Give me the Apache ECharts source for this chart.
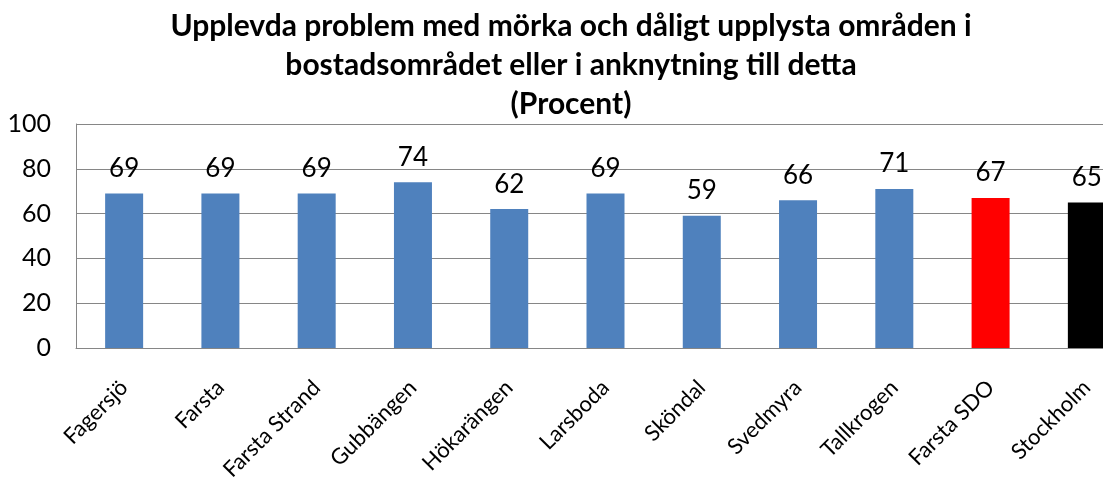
<!DOCTYPE html>
<html>
<head>
<meta charset="utf-8">
<script src="https://cdn.jsdelivr.net/npm/echarts@6/dist/echarts.min.js"></script>
<style>
  html, body { margin: 0; padding: 0; background: #fff; }
  #chart { width: 1103px; height: 490px; }
</style>
</head>
<body>
<div id="chart"></div>
<script>
// Upplevda problem med mörka och dåligt upplysta områden (procent)
const titleLines = [
  'Upplevda problem med mörka och dåligt upplysta områden i',
  'bostadsområdet eller i anknytning till detta',
  '(Procent)'
]
const areas = ['Fagersjö', 'Farsta', 'Farsta Strand', 'Gubbängen', 'Hökarängen',
  'Larsboda', 'Sköndal', 'Svedmyra', 'Tallkrogen', 'Farsta SDO', 'Stockholm']
const percent = [69, 69, 69, 74, 62, 69, 59, 66, 71, 67, 65]
const barColors = ['#4F81BD', '#4F81BD', '#4F81BD', '#4F81BD', '#4F81BD',
  '#4F81BD', '#4F81BD', '#4F81BD', '#4F81BD', '#FF0000', '#000000']
const yTicks = { min: 0, max: 100, step: 20 }

const FONT = 'Lato, "Open Sans", sans-serif'
const GRID_COLOR = '#868686'

const chart = echarts.init(document.getElementById('chart'))

chart.setOption({
  backgroundColor: '#fff',
  animation: false,
  title: {
    text: titleLines.join('\n'),
    left: 566,
    textAlign: 'center',
    top: 2,
    textStyle: {
      fontFamily: FONT,
      fontWeight: 'bold',
      fontSize: 30,
      lineHeight: 39,
      color: '#000'
    }
  },
  // plot runs past the right edge, as in the source picture
  grid: {
    left: 76, top: 124, width: 1059, height: 224,
    containLabel: false, outerBoundsMode: 'none'
  },
  xAxis: {
    type: 'category',
    data: areas,
    axisLine: { show: true, lineStyle: { color: GRID_COLOR, width: 1 } },
    axisTick: { show: false },
    axisLabel: {
      rotate: 45,
      interval: 0,
      margin: 36,
      fontFamily: FONT,
      fontSize: 22,
      color: '#000'
    }
  },
  yAxis: {
    type: 'value',
    min: yTicks.min,
    max: yTicks.max,
    interval: yTicks.step,
    axisLine: { show: true, lineStyle: { color: GRID_COLOR, width: 1 } },
    axisTick: { show: false },
    splitLine: { lineStyle: { color: GRID_COLOR, width: 1 } },
    axisLabel: {
      margin: 25,
      fontFamily: FONT,
      fontSize: 25,
      color: '#000'
    }
  },
  series: [
    {
      type: 'bar',
      data: percent.map((v, i) => ({ value: v, itemStyle: { color: barColors[i] } })),
      barWidth: 38,
      label: {
        show: true,
        position: 'top',
        distance: 12,
        fontFamily: FONT,
        fontSize: 26,
        color: '#000'
      }
    }
  ]
})
</script>
</body>
</html>
